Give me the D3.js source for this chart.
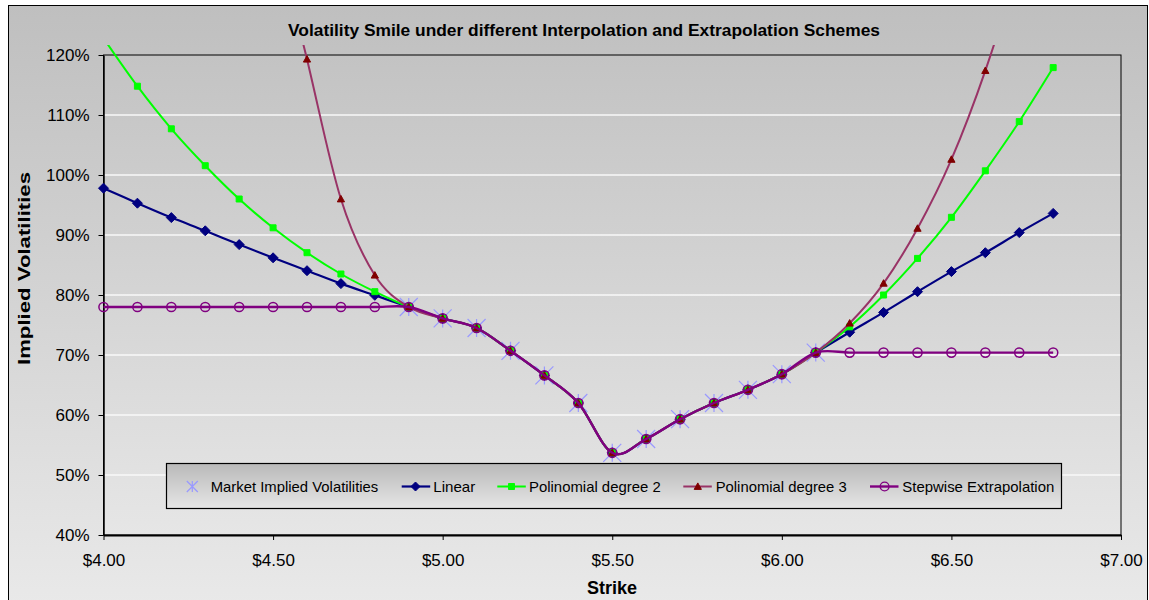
<!DOCTYPE html>
<html>
<head>
<meta charset="utf-8">
<script src="https://cdn.jsdelivr.net/npm/d3@7"></script>
<style>
  html, body { margin: 0; padding: 0; background: #ffffff; }
  svg { display: block; font-family: "Liberation Sans", Arial, sans-serif; }
</style>
</head>
<body>
<svg id="chart" width="1149" height="600"></svg>
<script>
// ---------------- data ----------------
const strikes = [4.0, 4.1, 4.2, 4.3, 4.4, 4.5, 4.6, 4.7, 4.8, 4.9,
                 5.0, 5.1, 5.2, 5.3, 5.4, 5.5, 5.6, 5.7, 5.8, 5.9,
                 6.0, 6.1, 6.2, 6.3, 6.4, 6.5, 6.6, 6.7, 6.8];

// market implied vols (%), only quoted between 4.9 and 6.1
const marketVols = [null, null, null, null, null, null, null, null, null, 78.0,
                    76.1, 74.5, 70.7, 66.6, 62.0, 53.7, 56.0, 59.3, 62.0, 64.2,
                    66.8, 70.4, null, null, null, null, null, null, null];

const linearVols = [97.8, 95.3, 92.9, 90.7, 88.4, 86.2, 84.05, 81.9, 79.95, 78.0,
                    76.1, 74.5, 70.7, 66.6, 62.0, 53.7, 56.0, 59.3, 62.0, 64.2,
                    66.8, 70.4, 73.8, 77.1, 80.55, 83.9, 87.05, 90.4, 93.6];

const poly2Vols = [122.8, 114.8, 107.7, 101.55, 96.0, 91.2, 87.05, 83.5, 80.55, 78.0,
                   76.1, 74.5, 70.7, 66.6, 62.0, 53.7, 56.0, 59.3, 62.0, 64.2,
                   66.8, 70.4, 74.7, 80.0, 86.1, 92.95, 100.7, 108.9, 117.9];

const poly3Vols = [386, 322, 266, 218, 178, 143, 119.3, 96.0, 83.3, 78.0,
                   76.1, 74.5, 70.7, 66.6, 62.0, 53.7, 56.0, 59.3, 62.0, 64.2,
                   66.8, 70.4, 75.3, 81.95, 91.1, 102.6, 117.4, 135.5, 157];

const stepwiseVols = [78.0, 78.0, 78.0, 78.0, 78.0, 78.0, 78.0, 78.0, 78.0, 78.0,
                      76.1, 74.5, 70.7, 66.6, 62.0, 53.7, 56.0, 59.3, 62.0, 64.2,
                      66.8, 70.4, 70.4, 70.4, 70.4, 70.4, 70.4, 70.4, 70.4];

const seriesNames = ["Market Implied Volatilities", "Linear", "Polinomial degree 2",
                     "Polinomial degree 3", "Stepwise Extrapolation"];

const xTickValues = [4.0, 4.5, 5.0, 5.5, 6.0, 6.5, 7.0];
const yTickValues = [40, 50, 60, 70, 80, 90, 100, 110, 120];

const titleText = "Volatility Smile under different Interpolation and Extrapolation Schemes";
const xAxisTitle = "Strike";
const yAxisTitle = "Implied Volatilities";

// ---------------- layout ----------------
const svg = d3.select("#chart");
const plot = { left: 103.5, right: 1121, top: 55, bottom: 535 };

const x = d3.scaleLinear().domain([4.0, 7.0]).range([plot.left, plot.right]);
const y = d3.scaleLinear().domain([40, 120]).range([plot.bottom, plot.top]);

const defs = svg.append("defs");
function vGrad(id, c0, c1) {
  const g = defs.append("linearGradient").attr("id", id)
    .attr("x1", 0).attr("y1", 0).attr("x2", 0).attr("y2", 1);
  g.append("stop").attr("offset", "0%").attr("stop-color", c0);
  g.append("stop").attr("offset", "100%").attr("stop-color", c1);
}
vGrad("outerGrad", "#bfbfbf", "#e9e9e9");
vGrad("plotGrad", "#c3c3c3", "#e6e6e6");
vGrad("legendGrad", "#b9b9b9", "#e6e6e6");

defs.append("clipPath").attr("id", "plotClip")
  .append("rect").attr("x", 90).attr("y", 45).attr("width", 1050).attr("height", 500);

// outer chart area
svg.append("rect").attr("x", 8.5).attr("y", 5.5).attr("width", 1139).attr("height", 600)
  .attr("fill", "url(#outerGrad)").attr("stroke", "#000").attr("stroke-width", 1);

// plot area
svg.append("rect").attr("x", plot.left).attr("y", plot.top)
  .attr("width", plot.right - plot.left).attr("height", plot.bottom - plot.top)
  .attr("fill", "url(#plotGrad)");

// gridlines
svg.append("g").selectAll("line").data(yTickValues.filter(v => v > 40 && v < 120)).join("line")
  .attr("x1", plot.left).attr("x2", plot.right)
  .attr("y1", d => y(d)).attr("y2", d => y(d))
  .attr("stroke", "#f8f8f8").attr("stroke-width", 1.6);

// plot border
svg.append("rect").attr("x", plot.left).attr("y", plot.top)
  .attr("width", plot.right - plot.left).attr("height", plot.bottom - plot.top)
  .attr("fill", "none").attr("stroke", "#000").attr("stroke-width", 1);

// axes
const xAxis = d3.axisBottom(x).tickValues(xTickValues)
  .tickFormat(d => "$" + d.toFixed(2)).tickSizeOuter(0).tickSizeInner(5).tickPadding(14);
const gx = svg.append("g").attr("transform", `translate(0,${plot.bottom})`).call(xAxis);
gx.select(".domain").attr("stroke", "#000").attr("stroke-width", 2);
gx.selectAll(".tick line").attr("stroke", "#000");
gx.selectAll("text").attr("font-size", 17).attr("fill", "#000")
  .attr("font-family", "Liberation Sans, Arial, sans-serif");

const yAxis = d3.axisLeft(y).tickValues(yTickValues)
  .tickFormat(d => d + "%").tickSizeOuter(0).tickSizeInner(5).tickPadding(9);
const gy = svg.append("g").attr("transform", `translate(${plot.left},0)`).call(yAxis);
gy.select(".domain").attr("stroke", "#000").attr("stroke-width", 1.5);
gy.selectAll(".tick line").attr("stroke", "#000");
gy.selectAll("text").attr("font-size", 17).attr("fill", "#000")
  .attr("font-family", "Liberation Sans, Arial, sans-serif");

// ---------------- series ----------------
const curve = d3.curveCardinal.tension(0);
const lineGen = d3.line()
  .defined(d => d[1] !== null)
  .x(d => x(d[0])).y(d => y(d[1])).curve(curve);

const layer = svg.append("g").attr("clip-path", "url(#plotClip)");

function pts(vals) { return strikes.map((s, i) => [s, vals[i]]).filter(d => d[1] !== null); }

// marker shapes
function starPath(r) {
  return `M${-r},${-r}L${r},${r}M${r},${-r}L${-r},${r}M0,${-r}L0,${r}`;
}
function diamondPath(r) { return `M0,${-r}L${r},0L0,${r}L${-r},0Z`; }
function squarePath(r) { return `M${-r},${-r}H${r}V${r}H${-r}Z`; }
function trianglePath(r) { return `M0,${-r}L${r},${r * 0.8}L${-r},${r * 0.8}Z`; }

const styles = [
  { vals: marketVols, line: null, width: 0, marker: starPath(9), mfill: "none", mstroke: "#9999ff", msw: 1.2,
    legendMarker: starPath(5.5) },
  { vals: linearVols, line: "#000080", width: 2.2, marker: diamondPath(5), mfill: "#000080", mstroke: "#000080", msw: 1,
    legendMarker: diamondPath(4.5) },
  { vals: poly2Vols, line: "#00ff00", width: 2, marker: squarePath(3), mfill: "#00ff00", mstroke: "#00ff00", msw: 1,
    legendMarker: squarePath(3) },
  { vals: poly3Vols, line: "#993366", width: 2, marker: trianglePath(3.6), mfill: "#800000", mstroke: "#800000", msw: 1,
    legendMarker: trianglePath(3.6) },
  { vals: stepwiseVols, line: "#800080", width: 2.4, marker: "circle", mfill: "none", mstroke: "#800080", msw: 1.5,
    legendMarker: "circle" }
];

styles.forEach(st => {
  const p = pts(st.vals);
  if (st.line) {
    layer.append("path").datum(p).attr("d", lineGen)
      .attr("fill", "none").attr("stroke", st.line).attr("stroke-width", st.width)
      .attr("stroke-linejoin", "round");
  }
  const mg = layer.append("g");
  if (st.marker === "circle") {
    mg.selectAll("circle").data(p).join("circle")
      .attr("cx", d => x(d[0])).attr("cy", d => y(d[1])).attr("r", 4.6)
      .attr("fill", st.mfill).attr("stroke", st.mstroke).attr("stroke-width", st.msw);
  } else {
    mg.selectAll("path").data(p).join("path")
      .attr("transform", d => `translate(${x(d[0])},${y(d[1])})`)
      .attr("d", st.marker)
      .attr("fill", st.mfill).attr("stroke", st.mstroke).attr("stroke-width", st.msw);
  }
});

// ---------------- legend ----------------
const lg = svg.append("g");
lg.append("rect").attr("x", 166.5).attr("y", 463.5).attr("width", 895).attr("height", 45)
  .attr("fill", "url(#legendGrad)").attr("stroke", "#000").attr("stroke-width", 1.2);

const legendY = 486.5;
const legendItems = [
  { lineX0: null, markerX: 192.3, textX: 210.7, textW: 167.6 },
  { lineX0: 401.7, markerX: 415.5, textX: 433.3, textW: 42 },
  { lineX0: 497.3, markerX: 511.5, textX: 529, textW: 131.7 },
  { lineX0: 683.3, markerX: 697.8, textX: 715.7, textW: 131 },
  { lineX0: 870, markerX: 884.6, textX: 902.3, textW: 152 }
];
legendItems.forEach((it, i) => {
  const st = styles[i];
  if (st.line) {
    lg.append("line").attr("x1", it.lineX0).attr("x2", it.lineX0 + 28.5)
      .attr("y1", legendY).attr("y2", legendY)
      .attr("stroke", st.line).attr("stroke-width", st.width);
  }
  if (st.legendMarker === "circle") {
    lg.append("circle").attr("cx", it.markerX).attr("cy", legendY).attr("r", 4.4)
      .attr("fill", "none").attr("stroke", st.mstroke).attr("stroke-width", 1.4);
  } else {
    lg.append("path").attr("transform", `translate(${it.markerX},${legendY})`)
      .attr("d", st.legendMarker)
      .attr("fill", st.mfill).attr("stroke", st.mstroke).attr("stroke-width", st.msw);
  }
  lg.append("text").attr("x", it.textX).attr("y", legendY + 5.5)
    .attr("font-size", 15).attr("fill", "#000")
    .attr("textLength", it.textW).attr("lengthAdjust", "spacingAndGlyphs")
    .text(seriesNames[i]);
});

// ---------------- titles ----------------
svg.append("text").attr("x", 288).attr("y", 36)
  .attr("font-size", 17).attr("font-weight", "bold").attr("fill", "#000")
  .attr("textLength", 592).attr("lengthAdjust", "spacingAndGlyphs")
  .text(titleText);

svg.append("text").attr("x", 612).attr("y", 594).attr("text-anchor", "middle")
  .attr("font-size", 18).attr("font-weight", "bold").attr("fill", "#000")
  .text(xAxisTitle);

svg.append("text")
  .attr("transform", "translate(29.5,365) rotate(-90)")
  .attr("x", 0).attr("y", 0)
  .attr("font-size", 17).attr("font-weight", "bold").attr("fill", "#000")
  .attr("textLength", 193).attr("lengthAdjust", "spacingAndGlyphs")
  .text(yAxisTitle);
</script>
</body>
</html>
